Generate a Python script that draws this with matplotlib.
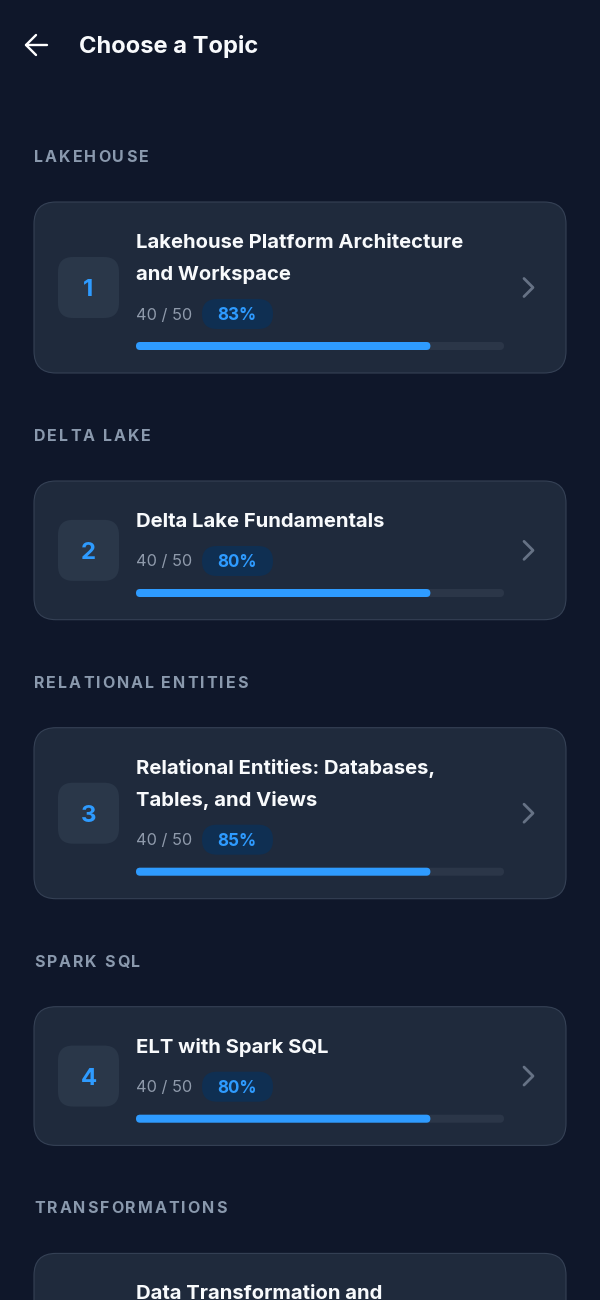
import matplotlib
matplotlib.use("Agg")
import matplotlib.pyplot as plt
from matplotlib.patches import FancyBboxPatch

plt.rcParams['font.family'] = ['Inter', 'DejaVu Sans']

# data
page_title = "Choose a Topic"
sections = ["LAKEHOUSE", "DELTA LAKE", "RELATIONAL ENTITIES", "SPARK SQL", "TRANSFORMATIONS"]
topic_numbers = [1, 2, 3, 4, 5]
topic_titles = [
    ["Lakehouse Platform Architecture", "and Workspace"],
    ["Delta Lake Fundamentals"],
    ["Relational Entities: Databases,", "Tables, and Views"],
    ["ELT with Spark SQL"],
    ["Data Transformation and", ""],
]
answered = [40, 40, 40, 40]
totals = [50, 50, 50, 50]
badges = [83, 80, 85, 80]

BG = "#0f172a"
CARD = "#1f2a3c"
CARD_EDGE = "#354155"
BOX = "#2a3749"
BLUE = "#2e9bff"
BADGE = "#0f2f52"
TRACK = "#2b3648"
GREY = "#8f9aab"
LABEL = "#8a99ad"
CHEVRON = "#667285"


def px(size):
    # font size given in screen pixels
    return size * 72 / 100


def rbox(ax, x0, y0, x1, y1, r, fc, ec="none", lw=0, zorder=2):
    p = FancyBboxPatch((x0 + r, y0 + r), x1 - x0 - 2 * r, y1 - y0 - 2 * r,
                       boxstyle="round,pad=%f,rounding_size=%f" % (r, r),
                       fc=fc, ec=ec, lw=lw, zorder=zorder)
    ax.add_patch(p)
    return p


def spaced_text(ax, x, y, s, spacing, **kw):
    # matplotlib has no letter spacing, so place each glyph by its prefix width
    renderer = ax.figure.canvas.get_renderer()
    for i, ch in enumerate(s):
        pre = 0
        if i > 0:
            t = ax.text(0, 0, s[:i], **kw)
            pre = t.get_window_extent(renderer).width
            if s[i - 1] == " ":
                t2 = ax.text(0, 0, s[:i] + ch, **kw)
                t3 = ax.text(0, 0, ch, **kw)
                pre = t2.get_window_extent(renderer).width - t3.get_window_extent(renderer).width
                t2.remove()
                t3.remove()
            t.remove()
        ax.text(x + pre + i * spacing, y, ch, ha="left", va="center_baseline", **kw)


fig = plt.figure(figsize=(6, 13), dpi=100, facecolor=BG)
ax = fig.add_axes([0, 0, 1, 1])
ax.set_xlim(0, 600)
ax.set_ylim(1300, 0)
ax.axis("off")

# header
ax.plot([47, 26], [45, 45], color="white", lw=1.7, solid_capstyle="round")
ax.plot([36, 26, 36], [35, 45, 55], color="white", lw=1.7,
        solid_capstyle="round", solid_joinstyle="round")
ax.text(79, 44.5, page_title, color="#f8fafc", fontsize=px(23.7), fontweight="bold",
        ha="left", va="center_baseline")

y = 156
for i, section in enumerate(sections):
    spaced_text(ax, 34, y, section, 2.0, color=LABEL, fontsize=px(16), fontweight="bold")

    top = y + 46
    lines = topic_titles[i]
    bottom = top + 138.7 + 32.3 * (len(lines) - 1)
    mid = (top + bottom) / 2
    rbox(ax, 34, top, 566, bottom, 22, CARD, CARD_EDGE, 0.8)

    ty = top + 39
    for j, line in enumerate(lines):
        ax.text(136, ty + 32 * j, line, color="#f8fafc", fontsize=px(20.25), fontweight="bold",
                ha="left", va="center_baseline", clip_on=True)

    if i < len(answered):
        # number box
        rbox(ax, 58, mid - 30.5, 119, mid + 30.5, 15, BOX)
        ax.text(88.5, mid, str(topic_numbers[i]), color=BLUE, fontsize=px(24),
                fontweight="bold", ha="center", va="center_baseline")

        meta = ty + 32 * (len(lines) - 1) + 41
        ax.text(136, meta - 0.5, "%d / %d" % (answered[i], totals[i]), color=GREY, fontsize=px(16.3),
                ha="left", va="center_baseline")
        rbox(ax, 202, meta - 15, 273, meta + 15, 15, BADGE)
        ax.text(237, meta - 0.5, "%d%%" % badges[i], color=BLUE, fontsize=px(17), fontweight="bold",
                ha="center", va="center_baseline")

        # progress bar, filled by answered / total
        bar = meta + 32
        rbox(ax, 136, bar - 4, 504, bar + 4, 4, TRACK)
        rbox(ax, 136, bar - 4, 136 + 368 * answered[i] / totals[i], bar + 4, 4, BLUE, zorder=3)

        # chevron
        ax.plot([524, 533, 524], [mid - 9, mid, mid + 9], color=CHEVRON, lw=2.0,
                solid_capstyle="round", solid_joinstyle="round")

    y = bottom + 62

fig.savefig("out.png", dpi=100, facecolor=BG)
